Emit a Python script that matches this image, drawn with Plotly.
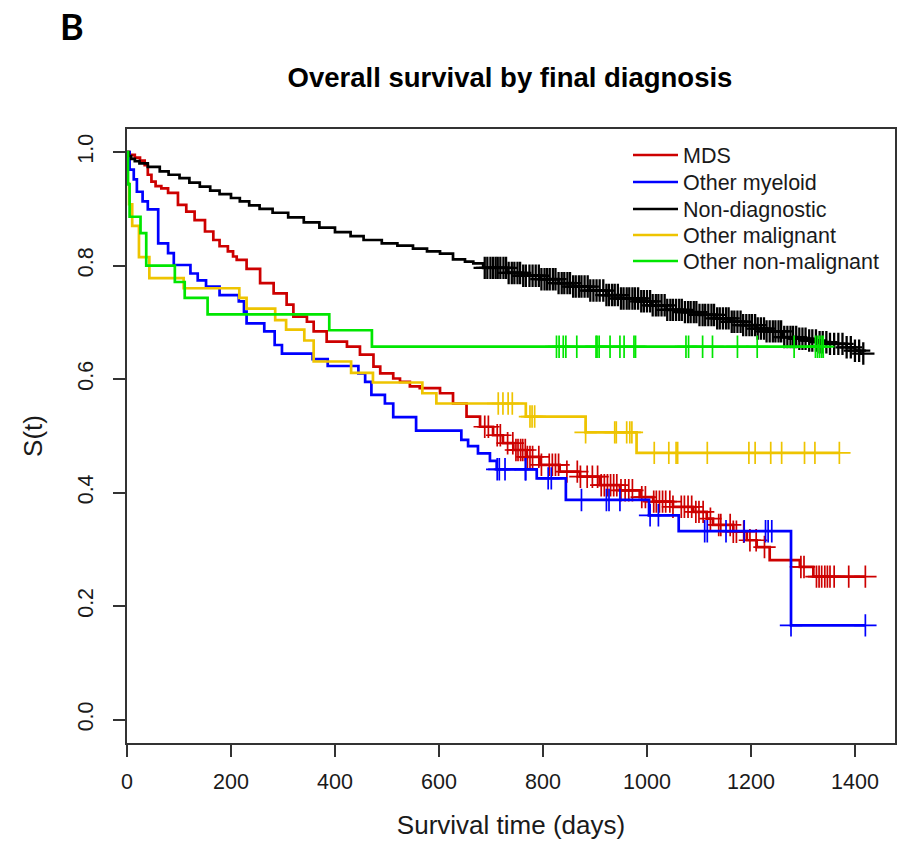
import numpy as np
import plotly.graph_objects as go

# ---------------- data ----------------
groups = ["MDS", "Other myeloid", "Non-diagnostic", "Other malignant", "Other non-malignant"]
colors = ["#CD0000", "#0000FF", "#000000", "#EEC400", "#00E600"]

# MDS
mds_t = [0, 5, 15, 25, 34, 40, 47, 55, 66, 79, 98, 114, 130, 150, 166, 178, 194, 204, 211, 230,
         256, 282, 307, 320, 346, 359, 384, 423, 448, 474, 487, 512, 525, 544, 563, 602, 627, 653,
         679, 704, 723, 743, 768, 794, 832, 871, 909, 948, 986, 1012, 1050, 1089, 1115, 1127, 1166,
         1192, 1211, 1236, 1294, 1320]
mds_s = [1.0, 0.995, 0.990, 0.985, 0.977, 0.960, 0.948, 0.940, 0.936, 0.928, 0.907, 0.895, 0.880,
         0.860, 0.845, 0.834, 0.825, 0.816, 0.810, 0.794, 0.769, 0.751, 0.731, 0.710, 0.701, 0.684,
         0.666, 0.657, 0.643, 0.622, 0.610, 0.601, 0.595, 0.587, 0.584, 0.575, 0.557, 0.534, 0.516,
         0.501, 0.487, 0.475, 0.463, 0.449, 0.437, 0.428, 0.413, 0.404, 0.392, 0.384, 0.375, 0.366,
         0.354, 0.343, 0.331, 0.316, 0.304, 0.281, 0.269, 0.252]
mds_cens = [688, 695, 712, 718, 732, 742, 748, 752, 757, 761, 766, 770, 775, 780, 792, 797, 812,
            818, 824, 830, 846, 866, 872, 885, 895, 905, 912, 918, 924, 930, 936, 942, 950, 958,
            965, 972, 990, 997, 1013, 1018, 1024, 1030, 1036, 1044, 1050, 1066, 1072, 1079, 1086,
            1094, 1100, 1108, 1122, 1138, 1142, 1160, 1166, 1172, 1186, 1198, 1210, 1226, 1296,
            1302, 1326, 1331, 1336, 1342, 1347, 1352, 1360, 1388, 1420]

# Other myeloid
mye_t = [0, 5, 13, 19, 30, 40, 60, 79, 90, 122, 136, 152, 178, 215, 225, 230, 264, 284, 298, 357,
         386, 445, 458, 470, 496, 512, 556, 643, 656, 675, 698, 711, 788, 844, 1004, 1061, 1277]
mye_s = [1.0, 0.969, 0.952, 0.930, 0.913, 0.899, 0.839, 0.822, 0.801, 0.786, 0.774, 0.763, 0.748,
         0.737, 0.719, 0.698, 0.684, 0.660, 0.645, 0.635, 0.623, 0.610, 0.595, 0.572, 0.557, 0.533,
         0.509, 0.493, 0.482, 0.469, 0.456, 0.441, 0.425, 0.387, 0.360, 0.332, 0.166]
mye_cens = [712, 716, 727, 766, 767, 810, 816, 874, 922, 927, 948, 1006, 1022, 1111, 1116, 1152,
            1187, 1228, 1233, 1240, 1277, 1420]

# Non-diagnostic
non_t = [0, 3, 8, 15, 24, 40, 63, 80, 101, 120, 140, 160, 178, 200, 217, 235, 255, 280, 310, 340,
         370, 400, 430, 455, 490, 520, 550, 577, 602, 627, 650, 666, 685, 730, 760, 794, 830, 858,
         890, 922, 950, 986, 1010, 1038, 1070, 1100, 1134, 1160, 1185, 1210, 1230, 1262, 1290, 1307,
         1330, 1352, 1384, 1400, 1410]
non_s = [1.0, 0.993, 0.988, 0.984, 0.980, 0.974, 0.966, 0.960, 0.954, 0.946, 0.939, 0.932, 0.926,
         0.919, 0.913, 0.906, 0.900, 0.893, 0.885, 0.876, 0.867, 0.859, 0.852, 0.845, 0.839, 0.835,
         0.830, 0.825, 0.821, 0.811, 0.807, 0.804, 0.796, 0.787, 0.782, 0.776, 0.769, 0.763, 0.756,
         0.748, 0.742, 0.737, 0.730, 0.722, 0.718, 0.713, 0.707, 0.701, 0.695, 0.689, 0.684, 0.674,
         0.671, 0.668, 0.665, 0.662, 0.656, 0.650, 0.645]
non_cens = [688, 693, 699, 704, 709, 713, 718, 724, 729, 734, 740, 745, 751, 756, 762, 767, 774, 780,
            786, 792, 797, 803, 808, 813, 819, 824, 830, 836, 841, 847, 852, 858, 863, 869, 874, 880,
            886, 891, 897, 903, 909, 916, 922, 927, 933, 938, 944, 950, 955, 961, 966, 972, 977, 983,
            989, 994, 1000, 1006, 1011, 1017, 1022, 1028, 1034, 1039, 1045, 1050, 1056, 1062, 1067,
            1073, 1079, 1084, 1090, 1095, 1101, 1107, 1112, 1118, 1124, 1129, 1135, 1140, 1146, 1152,
            1157, 1163, 1168, 1174, 1180, 1185, 1191, 1197, 1202, 1208, 1213, 1219, 1225, 1230, 1236,
            1242, 1247, 1253, 1258, 1264, 1270, 1276, 1281, 1287, 1293, 1299, 1305, 1312, 1318, 1325,
            1332, 1338, 1345, 1352, 1360, 1368, 1376, 1384, 1392, 1400, 1408, 1416]

# Other malignant
mal_t = [0, 1, 4, 10, 23, 43, 109, 216, 230, 285, 306, 341, 359, 431, 473, 568, 595, 767, 882, 980]
mal_s = [1.0, 0.945, 0.908, 0.870, 0.815, 0.778, 0.760, 0.743, 0.724, 0.704, 0.687, 0.668, 0.631,
         0.611, 0.594, 0.575, 0.557, 0.534, 0.506, 0.470]
mal_cens = [714, 723, 733, 741, 775, 779, 784, 882, 938, 941, 961, 967, 971, 1014, 1042, 1056, 1059,
            1116, 1196, 1208, 1238, 1259, 1303, 1323, 1370]

# Other non-malignant
onm_t = [0, 2, 5, 26, 37, 92, 111, 155, 389, 471]
onm_s = [1.0, 0.943, 0.886, 0.857, 0.800, 0.771, 0.743, 0.714, 0.686, 0.657]
onm_cens = [826, 831, 839, 844, 865, 902, 904, 908, 929, 948, 956, 975, 978, 1075, 1080, 1107, 1126,
            1174, 1212, 1283, 1324, 1328, 1332, 1336, 1339]

x_ticks = [0, 200, 400, 600, 800, 1000, 1200, 1400]
y_ticks = [0.0, 0.2, 0.4, 0.6, 0.8, 1.0]
y_tick_labels = ["0.0", "0.2", "0.4", "0.6", "0.8", "1.0"]

series = [(mds_t, mds_s, mds_cens), (mye_t, mye_s, mye_cens), (non_t, non_s, non_cens),
          (mal_t, mal_s, mal_cens), (onm_t, onm_s, onm_cens)]

FONT = "Liberation Sans, Arial, sans-serif"

# layout geometry: the page body has an 8px margin, so the figure is placed
# 8px right/down of the viewport origin; size it to fit the 907x848 window.
OFF = 8
W, H = 907 - 2 * OFF, 848 - 2 * OFF
PL, PR, PT, PB = 127 - OFF, 895 - OFF, 129 - OFF, 743 - OFF   # plot box in figure px
ML, MR, MT, MB = PL, W - PR, PT, H - PB
PW, PH = PR - PL, PB - PT

legend_ids = ["legend", "legend2", "legend3", "legend4", "legend5"]
legend_rows_px = [155, 182, 209, 235, 261]   # row centres in window px

fig = go.Figure()
for name, col, (t, s, c), lid in zip(groups, colors, series, legend_ids):
    t = np.asarray(t, float)
    s = np.asarray(s, float)
    c = np.asarray(c, float)
    t_end = max(t[-1], c.max())
    fig.add_trace(go.Scatter(
        x=np.append(t, t_end), y=np.append(s, s[-1]), mode="lines", name=name,
        line=dict(color=col, width=2.7, shape="hv"), legendgroup=name, legend=lid))
    idx = np.searchsorted(t, c, side="right") - 1
    mw = 2.3 if col == "#000000" else 1.7
    fig.add_trace(go.Scatter(
        x=c, y=s[idx], mode="markers", showlegend=False, legendgroup=name, legend=lid,
        marker=dict(symbol="cross-thin", size=16, line=dict(color=col, width=mw))))

legend_layout = {}
for lid, py in zip(legend_ids, legend_rows_px):
    legend_layout[lid] = dict(
        x=(620 - PL) / PW, y=(PB - (py - OFF)) / PH, xanchor="left", yanchor="middle",
        bgcolor="rgba(0,0,0,0)", borderwidth=0, itemwidth=45,
        font=dict(family=FONT, size=21.5, color="#1a1a1a"))

fig.update_layout(
    width=W, height=H,
    margin=dict(l=ML, r=MR, t=MT, b=MB, pad=0, autoexpand=False),
    paper_bgcolor="white", plot_bgcolor="white",
    font=dict(family=FONT, size=21.5, color="#1a1a1a"),
    title=dict(text="<b>Overall survival by final diagnosis</b>", x=502 / W, xanchor="center",
               y=1 - 69 / H, yanchor="middle", font=dict(family=FONT, size=27.5, color="#000")),
    xaxis=dict(range=[0, 1477], tickvals=x_ticks, ticks="outside", ticklen=12, tickwidth=1.5,
               tickcolor="#333", showline=True, mirror=True, linecolor="#333", linewidth=1.5,
               showgrid=False, zeroline=False, ticklabelstandoff=6, automargin=False,
               title=dict(text="Survival time (days)", standoff=37)),
    yaxis=dict(range=[-0.0412, 1.0406], tickvals=y_ticks, ticktext=y_tick_labels, tickangle=-90,
               ticks="outside", ticklen=12, tickwidth=1.5, tickcolor="#333", showline=True,
               mirror=True, linecolor="#333", linewidth=1.5, showgrid=False, zeroline=False,
               ticklabelstandoff=12, automargin=False, title=dict(text="S(t)", standoff=24)),
    annotations=[dict(text="<b>B</b>", xref="paper", yref="paper",
                      x=(64 - PL) / PW, y=(PB - 18) / PH,
                      xanchor="center", yanchor="middle", showarrow=False,
                      font=dict(family="Lato, Noto Sans, sans-serif", size=36, color="#000"))],
    **legend_layout,
)

fig.write_html("out.html")
